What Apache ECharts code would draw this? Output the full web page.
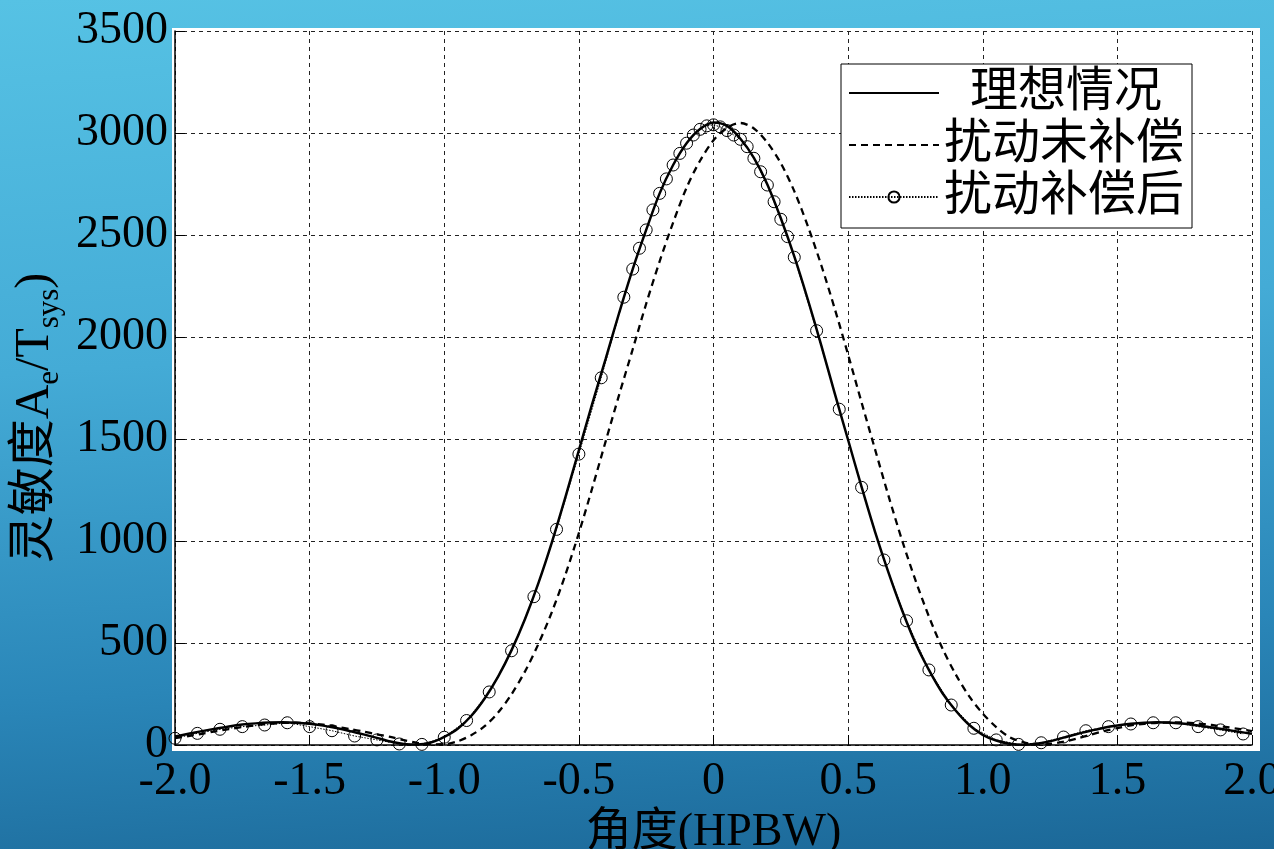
<!DOCTYPE html>
<html><head><meta charset="utf-8">
<script src="https://cdn.jsdelivr.net/npm/echarts@6/dist/echarts.min.js"></script>
<style>
html,body{margin:0;padding:0;width:1274px;height:849px;overflow:hidden;
background:linear-gradient(176deg,#56c2e4 0%,#44abd6 40%,#2a86b8 75%,#1b6797 100%);}
#plotbg{position:absolute;left:172px;top:28px;width:1088px;height:723px;background:#fff;}
#c{position:absolute;left:0;top:0;width:1274px;height:849px;}
</style></head><body><div id="plotbg"></div><div id="c"></div>
<script>
// x grid of the two continuous curves
const xLine = [-2.00,-1.95,-1.90,-1.85,-1.80,-1.75,-1.70,-1.65,-1.60,-1.55,-1.50,-1.45,-1.40,-1.35,-1.30,-1.25,-1.20,-1.15,-1.10,-1.05,
  -1.00,-0.95,-0.90,-0.85,-0.80,-0.75,-0.70,-0.65,-0.60,-0.55,-0.50,-0.45,-0.40,-0.35,-0.30,-0.25,-0.20,-0.15,-0.10,-0.05,
  0.00,0.05,0.10,0.15,0.20,0.25,0.30,0.35,0.40,0.45,0.50,0.55,0.60,0.65,0.70,0.75,0.80,0.85,0.90,0.95,1.00,
  1.05,1.10,1.15,1.20,1.25,1.30,1.35,1.40,1.45,1.50,1.55,1.60,1.65,1.70,1.75,1.80,1.85,1.90,1.95,2.00];
// 理想情况
const ideal = [42,55,68,80,91,100,106,110,111,109,104,95,83,68,52,35,17,5,2,12,
  40,80,142,228,335,465,618,795,995,1215,1445,1675,1895,2120,2333,2525,2704,2843,2950,3020,
  3052,3035,2972,2878,2748,2582,2395,2185,1960,1725,1495,1265,1045,845,662,500,368,255,168,98,50,
  22,6,1,6,18,36,54,70,85,96,104,109,111,109,104,96,86,76,65,55];
// 扰动未补偿
const uncomp = [34,44,55,67,78,88,97,104,108,109,106,100,90,78,66,52,40,24,10,3,
  4,18,48,92,159,249,361,496,653,835,1039,1261,1491,1719,1940,2163,2371,2561,2732,2864,
  2964,3026,3049,3022,2953,2852,2715,2545,2353,2140,1913,1679,1449,1221,1005,808,630,474,345,238,154,
  88,38,14,3,5,16,32,50,68,83,96,104,109,111,110,105,98,89,79,68];
// 扰动补偿后 (marker positions)
const xComp = [-2.000,-1.917,-1.833,-1.750,-1.667,-1.583,-1.500,-1.417,-1.333,-1.250,-1.167,-1.083,-1.000,-0.917,-0.833,-0.750,-0.667,-0.583,-0.500,-0.417,-0.333,
  -0.300,-0.275,-0.250,-0.225,-0.200,-0.175,-0.150,-0.125,-0.100,-0.075,-0.050,-0.025,0.000,0.025,0.050,0.075,0.100,0.125,0.150,0.175,0.200,0.225,0.250,0.275,0.300,
  0.383,0.467,0.550,0.633,0.717,0.800,0.883,0.967,1.050,1.133,1.217,1.300,1.383,1.467,1.550,1.633,1.717,1.800,1.883,1.967];
const comp = [33,57,77,90,98,109,90,70,44,25,5,3,38,120,260,462,727,1057,1426,1800,2195,
  2333,2435,2525,2623,2704,2775,2843,2900,2950,2990,3018,3035,3040,3030,3012,2990,2969,2933,2876,2810,2745,2663,2577,2492,2391,
  2031,1646,1263,907,609,368,196,82,25,3,11,39,70,90,103,109,109,90,74,54];
const seriesNames = ['理想情况','扰动未补偿','扰动补偿后'];
const xTickLabels = ['-2.0','-1.5','-1.0','-0.5','0','0.5','1.0','1.5','2.0'];
const xTicks = [-2,-1.5,-1,-0.5,0,0.5,1,1.5,2];
const yTickLabels = ['0','500','1000','1500','2000','2500','3000','3500'];

const FF = "'Liberation Serif','Noto Sans CJK SC',serif";
const pair = (xs, ys) => xs.map((x, i) => [x, ys[i]]);
const NOFILL = 'rgba(0,0,0,0)';

const chart = echarts.init(document.getElementById('c'), null, {renderer: 'canvas'});
chart.setOption({
  backgroundColor: 'transparent',
  animation: false,
  grid: {left: 175, right: 22, top: 31, bottom: 104, containLabel: false, outerBoundsMode: 'none'},
  legend: {
    orient: 'vertical', left: 841, top: 64,
    data: seriesNames,
    backgroundColor: '#fff', borderColor: '#000', borderWidth: 1, borderRadius: 0,
    padding: [3, 8, 5, 7], itemGap: 0,
    itemWidth: 90, itemHeight: 14,
    textStyle: {fontFamily: FF, fontSize: 48, color: '#000', lineHeight: 52,
      rich: {p: {width: 26, fontSize: 48}}},
    formatter: n => n === '理想情况' ? '{p|}' + n : n
  },
  xAxis: {
    type: 'value', min: -2, max: 2, interval: 0.5,
    name: '角度(HPBW)', nameLocation: 'middle', nameGap: 58,
    nameTextStyle: {fontFamily: FF, fontSize: 46, color: '#000'},
    axisLine: {show: true, onZero: false, lineStyle: {color: '#000', width: 1.5}},
    axisTick: {show: true, inside: true, length: 10, lineStyle: {color: '#000', width: 1}},
    axisLabel: {fontFamily: FF, fontSize: 46, color: '#000', margin: 14,
      formatter: v => { const i = xTicks.findIndex(t => Math.abs(t - v) < 1e-9); return i >= 0 ? xTickLabels[i] : ''; }},
    splitLine: {show: true, lineStyle: {color: '#222', width: 1, type: [4, 4]}}
  },
  yAxis: {
    type: 'value', min: 0, max: 3500, interval: 500,
    name: '{b|灵敏度A}{s|e}{b|/T}{s|sys}{b|)}', nameLocation: 'middle', nameGap: 106, nameRotate: 90,
    nameTextStyle: {fontFamily: FF, fontSize: 48, color: '#000', padding: [0, 60, 0, 0],
      rich: {
        b: {fontFamily: FF, fontSize: 48, color: '#000', lineHeight: 58, verticalAlign: 'bottom'},
        s: {fontFamily: FF, fontSize: 31, color: '#000', lineHeight: 58, verticalAlign: 'bottom', padding: [0, 0, -6, 0]}
      }},
    axisLine: {show: true, onZero: false, lineStyle: {color: '#000', width: 1.5}},
    axisTick: {show: true, inside: true, length: 10, lineStyle: {color: '#000', width: 1}},
    axisLabel: {fontFamily: FF, fontSize: 46, color: '#000', margin: 7,
      formatter: v => yTickLabels[Math.round(v / 500)] ?? ''},
    splitLine: {show: true, lineStyle: {color: '#222', width: 1, type: [4, 4]}}
  },
  series: [
    {name: seriesNames[0], type: 'line', data: pair(xLine, ideal), smooth: 0.3,
      symbol: 'none', lineStyle: {color: '#000', width: 2.5, type: 'solid'}, itemStyle: {color: NOFILL}, z: 3},
    {name: seriesNames[1], type: 'line', data: pair(xLine, uncomp), smooth: 0.3,
      symbol: 'none', lineStyle: {color: '#000', width: 2.3, type: [7, 5]}, itemStyle: {color: NOFILL}, z: 2},
    {name: seriesNames[2], type: 'line', data: pair(xComp, comp), smooth: false,
      symbol: 'circle', symbolSize: 12, showSymbol: true,
      lineStyle: {color: '#000', width: 1, type: [1.5, 1.5]},
      itemStyle: {color: NOFILL, borderColor: '#000', borderWidth: 1}, z: 4}
  ]
});
</script></body></html>
